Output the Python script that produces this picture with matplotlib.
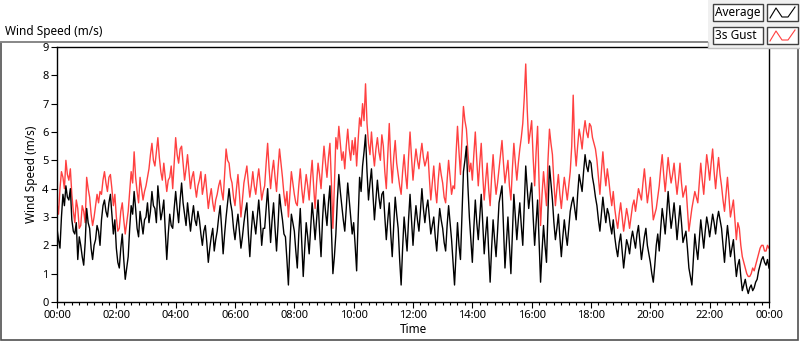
import numpy as np
import matplotlib
matplotlib.use("Agg")
import matplotlib.pyplot as plt
from matplotlib.patches import Rectangle
from matplotlib.lines import Line2D

plt.rcParams['font.family'] = ['Noto Sans', 'DejaVu Sans']

# wind speed, one value every 3 minutes (00:00 .. 24:00)
step_minutes = 3
average = [
    2.6, 2.2, 1.9, 3.0, 3.8, 3.4, 4.1, 3.7, 3.6, 4.0, 2.9, 2.5, 2.4, 2.8, 1.5, 2.3, 2.0, 1.6, 1.3, 2.1,  # 00h
    3.3, 2.8, 2.6, 1.9, 1.5, 2.0, 2.2, 2.7, 2.5, 2.0, 2.9, 3.4, 3.6, 3.2, 3.0, 3.5, 3.8, 3.1, 2.4, 2.9,  # 01h
    1.9, 1.4, 1.2, 1.9, 2.4, 1.5, 0.8, 1.2, 1.6, 2.6, 3.4, 3.1, 3.9, 3.3, 2.6, 2.3, 3.2, 2.8, 2.4, 2.9,  # 02h
    3.0, 3.5, 2.8, 3.2, 3.9, 3.4, 3.3, 2.8, 4.1, 3.5, 2.9, 3.2, 3.6, 2.5, 1.5, 2.4, 3.1, 2.7, 2.6, 3.3,  # 03h
    3.9, 3.3, 2.8, 3.6, 4.2, 3.5, 3.1, 2.7, 3.5, 3.0, 2.5, 3.0, 3.4, 2.9, 2.7, 3.2, 2.9, 2.4, 2.0, 2.5,  # 04h
    2.7, 2.1, 1.4, 1.9, 2.3, 2.6, 1.8, 2.2, 2.5, 3.0, 3.4, 2.6, 1.7, 2.4, 3.0, 3.5, 4.0, 3.5, 3.2, 2.6,  # 05h
    2.2, 2.7, 3.1, 2.5, 1.9, 2.3, 2.8, 3.2, 3.5, 2.4, 1.6, 2.5, 3.2, 2.8, 2.4, 3.0, 3.6, 2.9, 2.0, 2.6,  # 06h
    2.6, 3.3, 4.0, 3.1, 2.1, 2.9, 3.5, 2.6, 1.8, 2.7, 3.8, 3.3, 2.9, 2.4, 2.3, 1.5, 0.6, 2.0, 3.1, 2.8,  # 07h
    2.5, 1.8, 1.2, 2.4, 3.3, 2.1, 0.9, 1.9, 2.8, 2.3, 1.7, 2.6, 3.5, 2.9, 2.2, 2.9, 3.6, 2.5, 1.6, 2.9,  # 08h
    3.8, 3.2, 2.7, 3.5, 4.1, 2.6, 1.0, 1.6, 2.4, 3.6, 4.5, 3.9, 3.4, 2.9, 2.5, 3.3, 4.2, 3.6, 3.0, 2.4,  # 09h
    2.8, 2.0, 1.1, 2.9, 4.4, 3.9, 4.8, 5.3, 5.9, 4.6, 3.6, 4.2, 4.7, 3.8, 2.9, 3.6, 4.3, 3.7, 3.3, 3.8,  # 10h
    3.9, 3.0, 2.2, 2.9, 3.5, 2.4, 1.6, 2.7, 3.7, 3.1, 2.6, 1.5, 0.6, 1.9, 3.0, 2.4, 1.8, 2.9, 3.8, 2.9,  # 11h
    2.0, 2.8, 3.4, 2.9, 2.5, 3.2, 4.0, 3.3, 2.8, 3.3, 3.6, 3.0, 2.4, 2.7, 3.0, 2.3, 1.8, 2.6, 3.3, 2.9,  # 12h
    2.6, 2.1, 1.8, 2.7, 3.4, 2.8, 2.2, 1.4, 0.6, 1.7, 2.8, 2.0, 1.5, 3.0, 4.6, 5.0, 5.5, 4.1, 3.0, 2.2,  # 13h
    1.4, 2.6, 3.6, 2.8, 2.2, 3.0, 3.8, 2.8, 1.7, 2.4, 3.0, 1.8, 0.7, 1.9, 2.9, 2.2, 1.6, 2.5, 3.5, 3.8,  # 14h
    4.1, 2.6, 1.2, 2.1, 3.0, 2.0, 1.0, 2.4, 3.8, 3.0, 2.2, 2.9, 3.5, 2.7, 2.0, 3.4, 4.8, 4.0, 3.3, 3.8,  # 15h
    4.2, 3.0, 2.0, 2.8, 3.6, 2.2, 0.7, 1.8, 2.7, 2.0, 1.4, 3.2, 4.8, 4.2, 3.6, 2.8, 2.2, 2.6, 3.1, 2.3,  # 16h
    1.6, 2.3, 2.9, 2.4, 2.0, 2.6, 3.2, 3.5, 3.7, 3.3, 2.9, 3.8, 4.5, 4.2, 3.9, 4.6, 5.2, 4.8, 4.6, 5.0,  # 17h
    4.9, 4.4, 4.1, 3.7, 3.4, 2.9, 2.5, 3.1, 3.7, 3.2, 2.8, 3.3, 3.1, 2.7, 2.4, 2.9, 2.3, 1.9, 1.6, 2.1,  # 18h
    2.4, 1.8, 1.2, 1.7, 2.2, 2.0, 1.7, 2.2, 2.5, 2.2, 1.9, 2.4, 2.7, 2.1, 1.5, 1.9, 2.3, 2.6, 2.0, 1.7,  # 19h
    1.4, 1.0, 0.7, 1.3, 2.0, 2.4, 1.8, 2.6, 3.3, 2.9, 2.4, 3.1, 3.9, 3.2, 2.6, 3.0, 3.5, 2.9, 2.2, 2.8,  # 20h
    3.4, 2.8, 2.1, 2.3, 2.5, 1.9, 1.2, 0.9, 0.6, 1.5, 2.4, 1.9, 1.5, 2.2, 2.9, 2.4, 1.9, 2.5, 3.0, 2.7,  # 21h
    2.3, 2.7, 3.1, 2.8, 2.4, 2.9, 3.2, 2.9, 2.6, 2.0, 1.4, 2.1, 2.7, 2.2, 1.6, 1.9, 2.2, 1.5, 0.9, 1.3,  # 22h
    1.5, 0.9, 0.4, 0.6, 0.8, 0.5, 0.3, 0.5, 0.6, 0.4, 0.5, 0.7, 0.8, 1.1, 1.3, 1.5, 1.6, 1.4, 1.3, 1.5,  # 23h
    1.2,
]
gust = [
    3.5, 3.1, 4.0, 4.6, 4.4, 4.0, 5.0, 4.5, 4.3, 4.7, 3.8, 3.2, 2.8, 3.6, 3.3, 2.6, 2.7, 3.4, 3.2, 2.8,
    4.4, 4.0, 3.7, 3.1, 2.7, 3.0, 3.4, 3.8, 3.5, 3.9, 3.8, 4.3, 4.6, 4.2, 3.9, 4.4, 4.5, 4.0, 3.4, 3.8,
    3.0, 2.5, 2.6, 3.2, 3.5, 2.9, 2.4, 2.8, 3.2, 3.9, 4.6, 4.2, 5.3, 4.4, 3.9, 3.5, 4.4, 4.0, 3.6, 3.9,
    4.1, 4.4, 4.7, 5.2, 5.6, 5.0, 4.8, 5.3, 5.8, 5.1, 4.6, 4.3, 4.9, 4.4, 3.9, 4.3, 4.4, 4.8, 4.0, 4.9,
    5.8, 5.2, 4.9, 5.4, 5.5, 4.9, 4.3, 4.7, 5.2, 4.6, 4.0, 4.4, 4.6, 4.1, 3.7, 4.1, 4.3, 4.6, 3.8, 4.1,
    4.5, 3.9, 3.3, 3.7, 4.0, 3.5, 3.2, 3.6, 3.8, 4.1, 4.3, 3.9, 3.6, 4.5, 5.4, 5.0, 4.9, 4.4, 4.2, 3.7,
    3.4, 4.0, 4.5, 3.8, 3.0, 3.6, 4.2, 4.5, 4.8, 4.2, 3.7, 4.1, 4.6, 4.1, 3.8, 4.3, 4.7, 4.2, 3.6, 3.9,
    4.1, 4.9, 5.6, 4.7, 4.0, 4.6, 5.0, 4.4, 3.9, 4.7, 5.4, 4.9, 4.4, 3.8, 3.4, 3.9, 3.0, 3.8, 4.6, 4.2,
    3.8, 3.5, 3.4, 4.1, 4.7, 4.0, 3.5, 4.0, 4.5, 4.1, 3.6, 4.4, 5.0, 4.1, 3.3, 4.2, 4.9, 4.5, 4.0, 4.8,
    5.5, 4.9, 4.4, 5.1, 5.6, 4.2, 2.6, 4.1, 5.8, 5.4, 6.2, 5.6, 5.0, 5.3, 4.7, 5.5, 6.1, 5.4, 5.0, 5.7,
    5.2, 5.8, 4.8, 5.7, 6.5, 6.2, 7.0, 6.4, 7.7, 6.3, 5.6, 5.2, 6.0, 5.3, 4.8, 5.4, 5.8, 5.3, 5.0, 5.9,
    5.5, 4.6, 4.0, 5.2, 6.3, 5.0, 4.2, 5.1, 5.7, 4.9, 4.5, 4.1, 3.8, 4.6, 5.2, 4.5, 4.0, 5.1, 6.0, 5.1,
    4.3, 4.9, 5.4, 5.0, 4.7, 5.2, 5.6, 5.1, 4.8, 5.0, 5.3, 4.4, 3.6, 4.2, 4.8, 4.0, 3.5, 4.3, 4.9, 4.5,
    4.2, 3.7, 3.5, 4.3, 5.0, 4.4, 3.8, 4.1, 4.0, 5.2, 6.2, 5.3, 4.5, 5.8, 6.9, 6.4, 6.1, 5.3, 4.6, 4.9,
    4.3, 5.2, 6.0, 5.0, 4.1, 4.9, 5.6, 4.5, 3.6, 4.3, 4.9, 4.0, 3.4, 4.4, 5.2, 4.4, 3.8, 4.2, 4.7, 5.2,
    5.7, 4.9, 4.2, 4.6, 5.0, 4.1, 3.6, 4.7, 5.6, 4.9, 4.3, 4.9, 5.4, 5.8, 6.3, 7.2, 8.4, 6.8, 5.6, 6.0,
    6.4, 5.1, 4.1, 5.3, 6.2, 4.2, 2.7, 3.8, 4.6, 4.0, 3.4, 5.0, 6.1, 5.6, 5.2, 4.2, 3.4, 4.0, 4.5, 3.8,
    3.3, 3.9, 4.4, 4.0, 3.6, 4.1, 4.6, 5.5, 7.3, 5.5, 4.8, 5.5, 6.1, 5.8, 5.4, 6.0, 6.4, 6.0, 5.8, 6.3,
    6.2, 5.8, 5.6, 5.4, 5.0, 4.4, 3.8, 4.6, 5.3, 4.6, 4.1, 4.7, 4.3, 3.8, 3.4, 3.9, 3.3, 2.9, 2.6, 3.1,
    3.5, 3.0, 2.5, 2.9, 3.3, 3.0, 2.6, 3.0, 3.4, 3.6, 3.2, 3.6, 4.0, 3.8, 3.6, 4.2, 4.7, 4.1, 3.5, 3.9,
    4.4, 3.6, 2.9, 3.1, 3.3, 3.7, 4.1, 4.7, 5.2, 4.5, 3.9, 4.5, 5.1, 4.6, 4.2, 4.5, 4.9, 4.3, 3.8, 4.3,
    4.9, 4.2, 3.7, 3.9, 4.1, 3.3, 2.5, 2.9, 3.3, 3.6, 3.9, 3.7, 3.5, 4.2, 4.9, 4.3, 3.8, 4.5, 5.2, 4.8,
    4.3, 4.9, 5.4, 4.6, 4.0, 4.6, 5.1, 4.5, 4.1, 3.6, 3.2, 3.8, 4.4, 3.7, 3.0, 3.3, 3.6, 2.9, 2.2, 2.8,
    2.6, 2.0, 1.6, 1.4, 1.2, 1.0, 0.9, 0.9, 1.0, 1.2, 1.1, 1.3, 1.5, 1.7, 1.9, 2.0, 2.0, 1.8, 1.8, 2.0,
    1.9,
]
hour_ticks = [0, 2, 4, 6, 8, 10, 12, 14, 16, 18, 20, 22, 24]
hour_labels = ["00:00", "02:00", "04:00", "06:00", "08:00", "10:00", "12:00",
               "14:00", "16:00", "18:00", "20:00", "22:00", "00:00"]
speed_ticks = list(range(10))

hours = np.arange(len(average)) * step_minutes / 60.0

fig = plt.figure(figsize=(8, 3.42), dpi=100)
ax = fig.add_axes([57/800, 1-302/342, 712/800, 255/342])

ax.plot(hours, gust, color='#ff4040', lw=1.0)
ax.plot(hours, average, color='black', lw=1.0)

ax.set_xlim(0, 24)
ax.set_ylim(0, 9)
ax.set_xticks(hour_ticks)
ax.set_xticklabels(hour_labels)
ax.set_xticks(np.arange(0, 24.01, 0.25), minor=True)
ax.set_yticks(speed_ticks)
ax.tick_params(axis='both', which='major', labelsize=8, length=4, width=0.8, pad=2)
ax.tick_params(axis='x', which='minor', length=2, width=0.8)
ax.tick_params(axis='y', which='minor', length=0)
for s in ax.spines.values():
    s.set_linewidth(1.0)
ax.set_xlabel("Time", fontsize=8.5, labelpad=1)
ax.set_ylabel("Wind Speed (m/s)", fontsize=8.5, labelpad=3)

# outer LabVIEW-style frame
fig.patches.append(Rectangle((1/800, 2/342), 797/800, 298/342, transform=fig.transFigure,
                             fill=False, ec='#505050', lw=1.2))
fig.lines.append(Line2D([1/800, 708/800], [1-42/342, 1-42/342], transform=fig.transFigure,
                        color='#909090', lw=1.2))
fig.text(5/800, 1-32/342, "Wind Speed (m/s)", fontsize=8.5, va='center', ha='left')

# legend panel at top right
fig.patches.append(Rectangle((708/800, 1-48/342), 92/800, 48/342, transform=fig.transFigure,
                             fc='#f0f0f0', ec='none', zorder=3))
fig.lines.append(Line2D([708/800, 708/800, 800/800], [1-42/342, 1-48/342, 1-48/342],
                        transform=fig.transFigure, color='#c0c0c0', lw=1.0, zorder=4))
legend_items = [("Average", 'black'), ("3s Gust", '#ff4040')]
for i, (name, col) in enumerate(legend_items):
    y0 = 4 + i * 23
    fig.patches.append(Rectangle((713/800, 1-(y0+17)/342), 50/800, 17/342, transform=fig.transFigure,
                                 fc='white', ec='#404040', lw=1.0, zorder=4))
    fig.text(715/800, 1-(y0+8.5)/342, name, fontsize=8.5, va='center', ha='left', zorder=5)
    fig.patches.append(Rectangle((767/800, 1-(y0+17)/342), 31/800, 17/342, transform=fig.transFigure,
                                 fc='white', ec='#404040', lw=1.0, zorder=4))
    fig.lines.append(Line2D([770/800, 776/800, 782/800, 788/800, 795/800],
                            [1-(y0+14)/342, 1-(y0+4)/342, 1-(y0+13)/342, 1-(y0+13)/342, 1-(y0+3)/342],
                            transform=fig.transFigure, color=col, lw=0.8, zorder=5))

fig.savefig("out.png", dpi=100)
